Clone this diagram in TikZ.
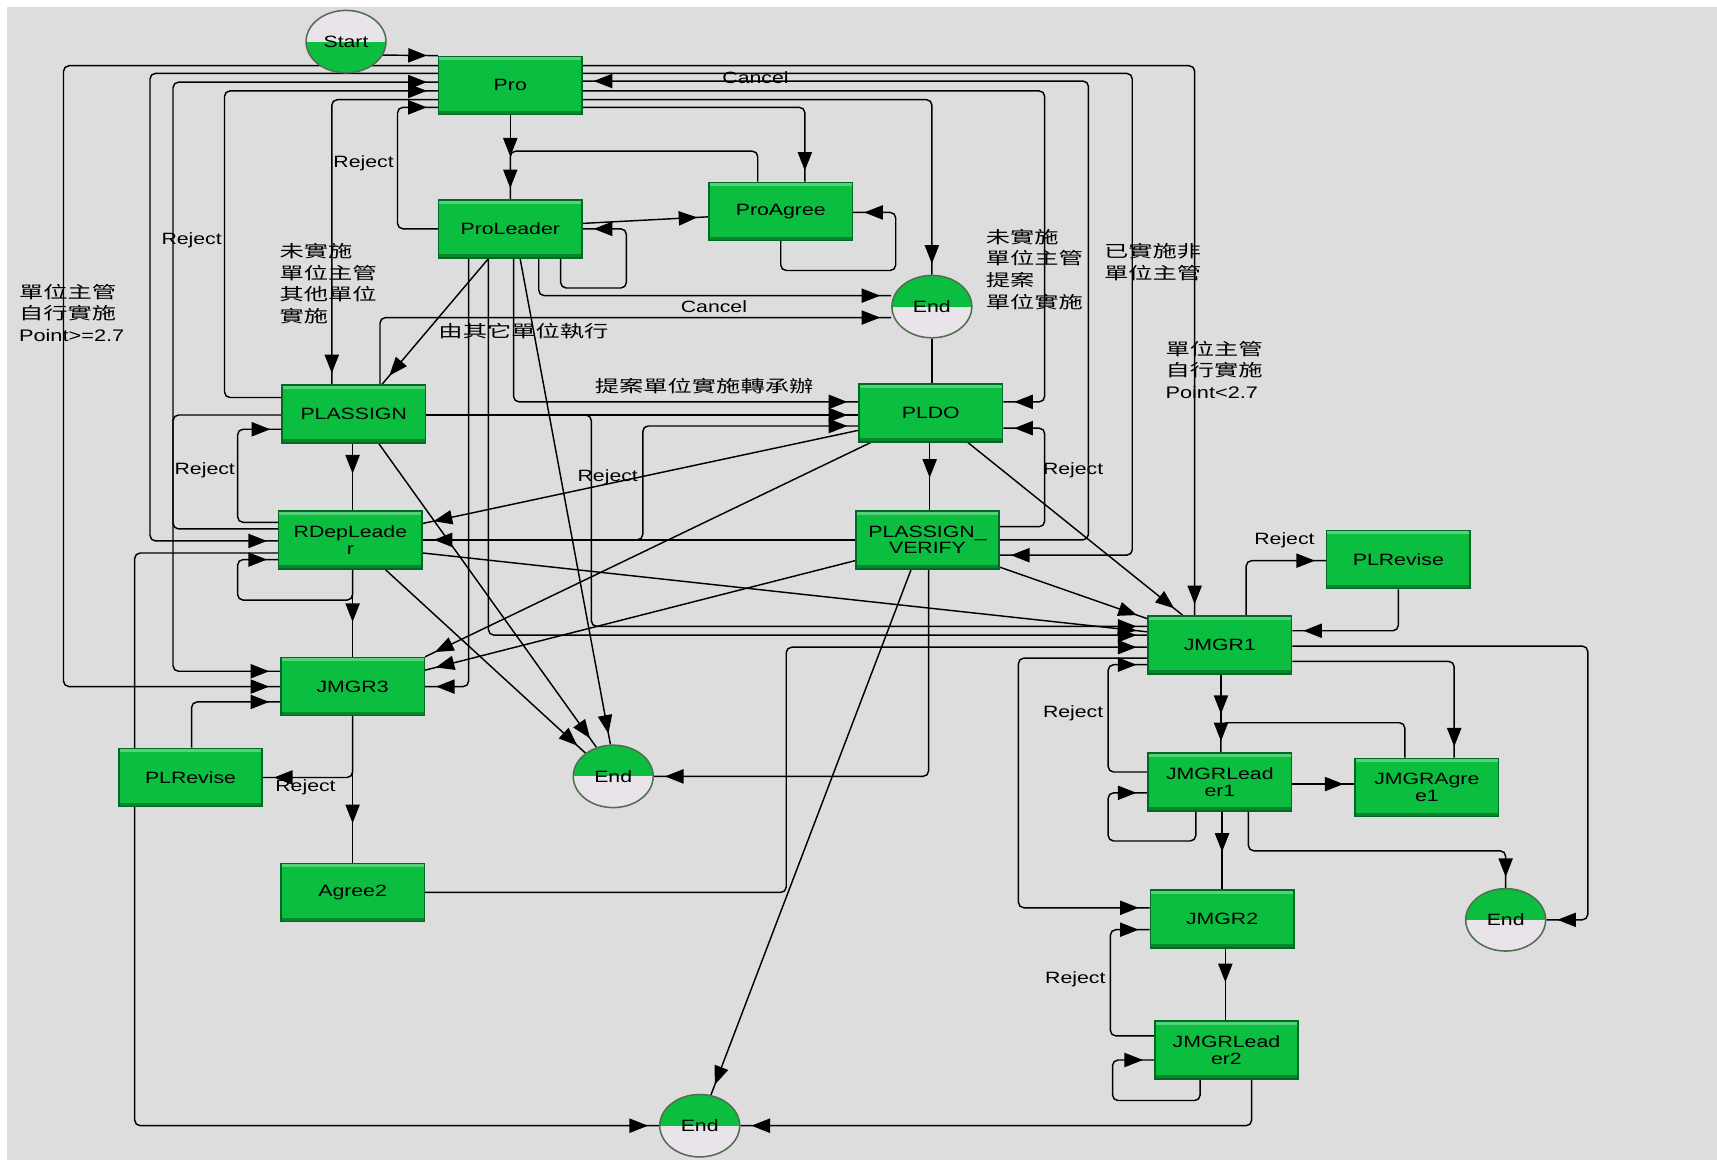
\documentclass[tikz,border=0pt]{standalone}
\usepackage{fontspec}
\setmainfont[FakeStretch=1.3]{Liberation Sans}
\newfontfamily\cjk[FakeStretch=1.45]{Noto Sans CJK TC}
\usetikzlibrary{arrows.meta,shapes.geometric,decorations.markings}
\pgfdeclarelayer{back}
\pgfdeclarelayer{lines}
\pgfsetlayers{back,lines,main}
\definecolor{boxgreen}{RGB}{12,190,64}
\definecolor{boxedge}{RGB}{0,105,35}
\definecolor{marble}{RGB}{221,221,221}
\definecolor{endgrey}{RGB}{232,228,234}
\definecolor{balledge}{RGB}{80,110,80}
\tikzset{
  box/.style={draw=boxedge, line width=0.8pt, fill=boxgreen, minimum width=2.62cm, minimum height=1.06cm,
    inner sep=1pt, align=center, font=\fontsize{8.5}{8.7}\selectfont,
    path picture={\fill[white,opacity=0.3] (path picture bounding box.north west) rectangle ([yshift=-2pt]path picture bounding box.north east);
      \fill[black,opacity=0.3] (path picture bounding box.south west) rectangle ([yshift=2pt]path picture bounding box.south east);}},
  endball/.style={ellipse, draw=balledge, line width=0.8pt, minimum width=1.46cm, minimum height=1.14cm, inner sep=0pt,
    font=\fontsize{8.5}{8.7}\selectfont,
    path picture={\fill[boxgreen] (path picture bounding box.north west) rectangle (path picture bounding box.east);
      \fill[endgrey] (path picture bounding box.west) rectangle (path picture bounding box.south east);}},
  startball/.style={endball,
    path picture={\fill[endgrey] (path picture bounding box.north west) rectangle (path picture bounding box.east);
      \fill[boxgreen] (path picture bounding box.west) rectangle (path picture bounding box.south east);}},
  link/.style={line width=0.75pt, rounded corners=0.1cm},
  flow/.style={link, postaction={decorate}, decoration={markings,
    mark=at position -0.2cm with {\arrow{Triangle[length=0.34cm,width=0.26cm]}}}},
  midflow/.style={line width=0.75pt, postaction={decorate}, decoration={markings,
    mark=at position #1 with {\arrow{Triangle[length=0.34cm,width=0.26cm]}}}},
  lbl/.style={font=\fontsize{8.5}{8.7}\selectfont, inner sep=0pt},
  cjklbl/.style={font=\cjk\fontsize{8.7}{11.2}\selectfont, inner sep=0pt, align=left}
}
\begin{document}
\begin{tikzpicture}[x=0.02cm, y=-0.02cm]
  \useasboundingbox (0,0) rectangle (1568,1059);
  \begin{pgfonlayer}{back}
    \fill[white] (0,0) rectangle (1568,1059);
    \fill[marble] (6,6) rectangle (1568,1059);
  \end{pgfonlayer}

  % Draw the states
  \node[startball] (Start) at (316,38) {Start};
  \node[box] (Pro) at (466,78) {Pro};
  \node[box] (ProLeader) at (466,209) {ProLeader};
  \node[box] (ProAgree) at (713,193) {ProAgree};
  \node[endball] (EndTop) at (851,280) {End};
  \node[box] (PLASSIGN) at (323,378) {PLASSIGN};
  \node[box] (PLDO) at (850,377) {PLDO};
  \node[box] (RDepLeader) at (320,493) {RDepLeade\\r};
  \node[box] (PLVerify) at (847,493) {PLASSIGN\_\\VERIFY};
  \node[box] (JMGR3) at (322,627) {JMGR3};
  \node[box] (PLReviseL) at (174,710) {PLRevise};
  \node[endball] (EndMid) at (560,709) {End};
  \node[box] (Agree2) at (322,815) {Agree2};
  \node[endball] (EndBottom) at (639,1028) {End};
  \node[box] (PLReviseR) at (1277,511) {PLRevise};
  \node[box] (JMGR1) at (1114,589) {JMGR1};
  \node[box] (JMGRLeaderA) at (1114,714) {JMGRLead\\er1};
  \node[box] (JMGRAgreeA) at (1303,719) {JMGRAgre\\e1};
  \node[endball] (EndRight) at (1375,840) {End};
  \node[box] (JMGR2) at (1116,839) {JMGR2};
  \node[box] (JMGRLeaderB) at (1120,959) {JMGRLead\\er2};

  \begin{pgfonlayer}{lines}
    % Draw the connectors round Pro
    \draw[flow] (Start.-20) -- (Pro.north west);
    \draw[flow] (Pro.west |- 0,60) -- (58,60) -- (58,627) -- (JMGR3.west |- 0,627);
    \draw[flow] (Pro.west |- 0,67) -- (137,67) -- (137,494) -- (RDepLeader.west |- 0,494);
    \draw[flow] (RDepLeader.west |- 0,483) -- (158,483) -- (158,75) -- (Pro.west |- 0,75);
    \draw[flow] (PLASSIGN.west |- 0,363) -- (205,363) -- (205,83) -- (Pro.west |- 0,83);
    \draw[flow] (Pro.west |- 0,91) -- (303,91) -- (PLASSIGN.north -| 303,0);
    \draw[flow] (ProLeader.west) -- (363,209) -- (363,98) -- (Pro.west |- 0,98);
    \draw[flow] (Pro.east |- 0,60) -- (1091,60) -- (JMGR1.north -| 1091,0);
    \draw[flow] (Pro.east |- 0,67) -- (1034,67) -- (1034,507) -- (PLVerify.east |- 0,507);
    \draw[flow] (PLVerify.east |- 0,493) -- (994,493) -- (994,74) -- (Pro.east |- 0,74);
    \draw[flow] (Pro.east |- 0,83) -- (954,83) -- (954,367) -- (PLDO.east |- 0,367);
    \draw[flow] (Pro.east |- 0,91) -- (851,91) -- (EndTop.north);
    \draw[flow] (Pro.east |- 0,98) -- (735,98) -- (ProAgree.north -| 735,0);
    \draw[flow] (Pro.south) -- (466,153);
    \draw[flow] (ProAgree.north -| 692,0) -- (692,138) -- (466,138) -- (ProLeader.north);

    % Draw the connectors from ProLeader
    \draw[flow] (ProLeader.east |- 0,204) -- (ProAgree.west |- 0,198);
    \draw[flow] (ProLeader.south -| 512,0) -- (512,263) -- (572,263) -- (572,209) -- (ProLeader.east |- 0,209);
    \draw[flow] (ProAgree.south) -- (713,247) -- (818,247) -- (818,194) -- (ProAgree.east |- 0,194);
    \draw[flow] (ProLeader.south -| 492,0) -- (492,270) -- (EndTop.west |- 0,270);
    \draw[flow] (PLASSIGN.north -| 347,0) -- (347,290) -- (EndTop.west |- 0,290);
    \draw[flow] (ProLeader.south -| 446,0) -- (PLASSIGN.north -| 349,0);
    \draw[flow] (ProLeader.south -| 469,0) -- (469,367) -- (PLDO.west |- 0,367);
    \draw[flow] (ProLeader.south -| 475,0) -- (EndMid.95);
    \draw[flow] (ProLeader.south -| 428,0) -- (428,627) -- (JMGR3.east |- 0,627);
    \draw[flow] (ProLeader.south -| 446,0) -- (446,580) -- (JMGR1.west |- 0,580);

    % Draw the connectors from PLASSIGN and RDepLeader
    \draw[flow] (PLASSIGN.east |- 0,379) -- (PLDO.west |- 0,379);
    \draw[flow] (PLASSIGN.east |- 0,379) -- (540,379) -- (540,572) -- (JMGR1.west |- 0,572);
    \draw[midflow=0.45] (PLASSIGN.south -| 322,0) -- (RDepLeader.north -| 322,0);
    \draw[flow] (RDepLeader.west |- 0,477) -- (217,477) -- (217,392) -- (PLASSIGN.west |- 0,392);
    \draw[flow] (PLASSIGN.west |- 0,379) -- (158,379) -- (158,613) -- (JMGR3.west |- 0,613);
    \draw[flow] (PLASSIGN.south -| 346,0) -- (EndMid.120);
    \draw[flow] (RDepLeader.east |- 0,493) -- (587,493) -- (587,389) -- (PLDO.west |- 0,389);
    \draw[flow] (PLVerify.west |- 0,493) -- (RDepLeader.east |- 0,493);
    \draw[flow] (PLDO.west |- 0,393) -- (RDepLeader.east |- 0,478);
    \draw[flow] (RDepLeader.east |- 0,505) -- (JMGR1.west |- 0,577);
    \draw[flow] (RDepLeader.south -| 352,0) -- (EndMid.140);
    \draw[midflow=0.6] (RDepLeader.south -| 322,0) -- (JMGR3.north -| 322,0);
    \draw[flow] (RDepLeader.south -| 322,0) -- (322,548) -- (217,548) -- (217,511) -- (RDepLeader.west |- 0,511);
    \draw[flow] (RDepLeader.west |- 0,505) -- (123,505) -- (123,1028) -- (EndBottom.west);

    % Draw the connectors from PLDO and PLASSIGN_VERIFY
    \draw[midflow=0.52] (PLDO.south -| 849,0) -- (PLVerify.north -| 849,0);
    \draw[link] (EndTop.south) -- (EndTop.south |- PLDO.north);
    \draw[flow] (PLVerify.east |- 0,481) -- (954,481) -- (954,391) -- (PLDO.east |- 0,391);
    \draw[flow] (PLDO.south -| 795,0) -- (JMGR3.north east);
    \draw[flow] (PLVerify.west |- 0,512) -- (JMGR3.east |- 0,612);
    \draw[flow] (PLDO.south -| 884,0) -- (JMGR1.north -| 1080,0);
    \draw[flow] (PLVerify.east |- 0,518) -- (JMGR1.west |- 0,565);
    \draw[flow] (PLVerify.south -| 832,0) -- (EndBottom.70);
    \draw[flow] (PLVerify.south -| 848,0) -- (848,709) -- (EndMid.east);

    % Draw the connectors from JMGR3
    \draw[flow] (JMGR3.south -| 322,0) -- (322,710) -- (PLReviseL.east);
    \draw[midflow=0.73] (JMGR3.south -| 322,0) -- (Agree2.north -| 322,0);
    \draw[flow] (PLReviseL.north -| 175,0) -- (175,641) -- (JMGR3.west |- 0,641);
    \draw[flow] (Agree2.east) -- (718,815) -- (718,591) -- (JMGR1.west |- 0,591);

    % Draw the connectors round JMGR1
    \draw[flow] (JMGR1.west |- 0,601) -- (930,601) -- (930,829) -- (JMGR2.west |- 0,829);
    \draw[flow] (JMGRLeaderA.west |- 0,705) -- (1012,705) -- (1012,607) -- (JMGR1.west |- 0,607);
    \draw[flow] (JMGRLeaderA.south -| 1092,0) -- (1092,768) -- (1012,768) -- (1012,724) -- (JMGRLeaderA.west |- 0,724);
    \draw[flow] (JMGR1.south -| 1115,0) -- (1115,662);
    \draw[flow] (JMGRAgreeA.north -| 1283,0) -- (1283,660) -- (1115,660) -- (JMGRLeaderA.north -| 1115,0);
    \draw[flow] (JMGR1.east |- 0,604) -- (1328,604) -- (JMGRAgreeA.north -| 1328,0);
    \draw[flow] (JMGRLeaderA.east |- 0,716) -- (JMGRAgreeA.west |- 0,716);
    \draw[flow] (JMGRLeaderA.south -| 1140,0) -- (1140,777) -- (1375,777) -- (EndRight.north);
    \draw[flow] (JMGR1.east |- 0,590) -- (1450,590) -- (1450,840) -- (EndRight.east);
    \draw[flow] (JMGR1.north -| 1138,0) -- (1138,512) -- (PLReviseR.west |- 0,512);
    \draw[flow] (PLReviseR.south) -- (1277,576) -- (JMGR1.east |- 0,576);
    \draw[midflow=0.52] (JMGRLeaderA.south -| 1116,0) -- (JMGR2.north -| 1116,0);
    \draw[midflow=0.47] (JMGR2.south -| 1119,0) -- (JMGRLeaderB.north -| 1119,0);
    \draw[flow] (JMGRLeaderB.west |- 0,946) -- (1014,946) -- (1014,849) -- (JMGR2.west |- 0,849);
    \draw[flow] (JMGRLeaderB.south -| 1096,0) -- (1096,1005) -- (1016,1005) -- (1016,968) -- (JMGRLeaderB.west |- 0,968);
    \draw[flow] (JMGRLeaderB.south -| 1143,0) -- (1143,1028) -- (EndBottom.east);
  \end{pgfonlayer}

  % Draw the connector labels
  \node[lbl] (cancelA) at (690,71) {Cancel};
  \node[lbl] (cancelB) at (652,280) {Cancel};
  \node[lbl] (rejectA) at (332,149) {Reject};
  \node[lbl] (rejectB) at (175,219) {Reject};
  \node[lbl] (rejectC) at (187,429) {Reject};
  \node[lbl] (rejectD) at (555,436) {Reject};
  \node[lbl] (rejectE) at (980,429) {Reject};
  \node[lbl] (rejectF) at (1173,493) {Reject};
  \node[lbl] (rejectG) at (980,651) {Reject};
  \node[lbl] (rejectH) at (279,719) {Reject};
  \node[lbl] (rejectI) at (982,894) {Reject};
  \node[cjklbl, anchor=north west] (condA) at (255,222) {未實施\\單位主管\\其他單位\\實施};
  \node[cjklbl, anchor=north west] (condB) at (17,259) {單位主管\\自行實施\\{\rmfamily Point>=2.7}};
  \node[cjklbl] (condC) at (478,302) {由其它單位執行};
  \node[cjklbl, anchor=north west] (condD) at (900,209) {未實施\\單位主管\\提案\\單位實施};
  \node[cjklbl, anchor=north west] (condE) at (1008,222) {已實施非\\單位主管};
  \node[cjklbl, anchor=north west] (condF) at (1064,311) {單位主管\\自行實施\\{\rmfamily Point<2.7}};
  \node[cjklbl] (condG) at (643,353) {提案單位實施轉承辦};
\end{tikzpicture}
\end{document}
